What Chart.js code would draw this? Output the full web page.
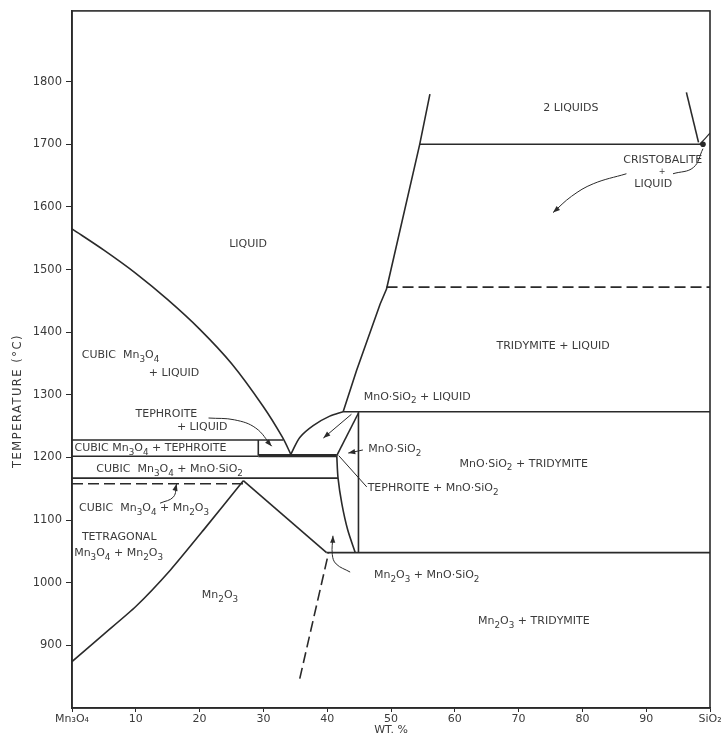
<!DOCTYPE html>
<html><head><meta charset="utf-8">
<script src="https://cdn.jsdelivr.net/npm/chart.js@4.4.0/dist/chart.umd.min.js"></script>
<style>html,body{margin:0;padding:0;background:#fff;}canvas{display:block}</style>
</head><body>
<canvas id="c" width="724" height="737"></canvas>
<script>
// ---- axis ticks ----
const xTickValues = [0,10,20,30,40,50,60,70,80,90,100];
const xTickLabels = ['Mn₃O₄','10','20','30','40','50','60','70','80','90','SiO₂'];
const yTickValues = [900,1000,1100,1200,1300,1400,1500,1600,1700,1800];

// ---- phase boundaries: [wt% SiO2, temperature °C] ----
const liquidusMn3O4   = [[0,1565],[5,1531],[10,1494],[15,1452],[20,1405],[25,1350],[30,1281],[33,1232],[34.3,1205]];
const liquidusTephro  = [[34.3,1205],[35.7,1232],[37.8,1251],[40.4,1266],[42.5,1273]];
const liquidusSiO2Low = [[42.5,1273],[44.6,1339],[48.3,1445],[49.3,1469]];
const liquidusSiO2Up  = [[49.3,1469],[54.5,1700],[56.1,1780]];
const twoLiquidsRight = [[96.3,1783],[98.2,1703]];
const cristobaliteLiq = [[98.4,1700],[99.3,1710],[100,1718]];
const line1700        = [[54.5,1700],[98.6,1700]];
const dashed1472      = [[49.3,1472],[100,1472]];
const line1273        = [[42.5,1273],[100,1273]];
const line1228        = [[0,1228],[33.1,1228]];
const vert29          = [[29.2,1228],[29.2,1203]];
const line1203thin    = [[0,1202],[29.2,1202]];
const line1203thick   = [[29.2,1203],[41.5,1203]];
const line1167        = [[0,1167],[41.7,1167]];
const dashed1158      = [[0,1158],[26.8,1158]];
const mn2o3Left       = [[0,874],[5,918],[10,962],[15.4,1020],[20.6,1084],[26.85,1163]];
const mn2o3Right      = [[26.85,1163],[39.9,1048]];
const line1048        = [[39.9,1048],[100,1048]];
const rhodoniteUpper  = [[44.9,1271],[41.5,1203]];
const rhodoniteLower  = [[41.5,1203],[41.7,1167],[42.3,1126],[43.2,1085],[44.4,1048]];
const vert449         = [[44.9,1273],[44.9,1048]];
const dashedLow       = [[35.7,847],[40.2,1047]];
const invariantDot    = [[98.9,1700]];

// ---- leader lines / arrows ----
const arrowTephLiq   = [[21.4,1263],[25.5,1260],[28.8,1247],[31.3,1218]];
const arrowCubicMn2O3= [[13.8,1127],[15.9,1137],[16.4,1158]];
const arrowMnSLiq    = [[43.8,1269],[39.4,1231]];
const arrowMnS       = [[45.6,1212],[43.3,1207]];
const leaderTephMnS  = [[46.2,1153],[41.8,1203]];
const arrowMn2O3MnS  = [[43.6,1017],[41.4,1030],[40.8,1045],[40.9,1075]];
const arrowCristo    = [[86.9,1653],[81.7,1637],[78.3,1617],[75.4,1591]];
const leaderCristo   = [[94.2,1653],[97.4,1663],[98.9,1693]];

// ---- region labels: [text, wt%, °C] ("_d" = subscript) ----
const regionLabels = [
  ['2 LIQUIDS', 78.2, 1757],
  ['CRISTOBALITE', 92.6, 1674],
  ['LIQUID', 91.1, 1637],
  ['LIQUID', 27.6, 1540],
  ['CUBIC  Mn_3O_4', 7.6, 1363],
  ['+ LIQUID', 16.0, 1334],
  ['TRIDYMITE + LIQUID', 75.4, 1377],
  ['MnO·SiO_2 + LIQUID', 54.1, 1297],
  ['TEPHROITE', 14.8, 1269],
  ['+ LIQUID', 20.4, 1249],
  ['CUBIC Mn_3O_4 + TEPHROITE', 12.3, 1215],
  ['MnO·SiO_2', 50.6, 1213],
  ['MnO·SiO_2 + TRIDYMITE', 70.8, 1190],
  ['CUBIC  Mn_3O_4 + MnO·SiO_2', 15.3, 1181],
  ['TEPHROITE + MnO·SiO_2', 56.6, 1151],
  ['CUBIC  Mn_3O_4 + Mn_2O_3', 11.3, 1119],
  ['TETRAGONAL', 7.4, 1073],
  ['Mn_3O_4 + Mn_2O_3', 7.3, 1047],
  ['Mn_2O_3 + MnO·SiO_2', 55.6, 1012],
  ['Mn_2O_3', 23.2, 980],
  ['Mn_2O_3 + TRIDYMITE', 72.4, 938]
];
const smallPlus = ['+', 92.5, 1656];

const LINE = '#2a2a2a';
const TEXT = '#3a3a3a';
const FONT = '"DejaVu Sans", sans-serif';

const datasets = [];
function addLine(pts, o = {}) {
  datasets.push({
    type: 'scatter', showLine: !o.dot,
    data: pts.map(p => ({x: p[0], y: p[1]})),
    borderColor: LINE, backgroundColor: LINE,
    borderWidth: o.w || 1.6, borderDash: o.dash || [],
    pointRadius: o.dot ? 2.8 : 0, pointHoverRadius: 0,
    pointBackgroundColor: LINE, pointBorderWidth: 0,
    tension: o.t || 0, arrow: !!o.arrow
  });
}
addLine(liquidusMn3O4, {t: 0.3});
addLine(liquidusTephro, {t: 0.3});
addLine(liquidusSiO2Low);
addLine(liquidusSiO2Up);
addLine(twoLiquidsRight);
addLine(cristobaliteLiq, {t: 0.4, w: 1.2});
addLine(line1700);
addLine(dashed1472, {dash: [11, 5]});
addLine(line1273);
addLine(line1228);
addLine(vert29);
addLine(line1203thin);
addLine(line1203thick, {w: 3.2});
addLine(line1167);
addLine(dashed1158, {dash: [11, 5]});
addLine(mn2o3Left, {t: 0.2});
addLine(mn2o3Right);
addLine(line1048);
addLine(rhodoniteUpper);
addLine(rhodoniteLower, {t: 0.3});
addLine(vert449);
addLine(dashedLow, {dash: [11, 5]});
addLine(invariantDot, {dot: true});
addLine(arrowTephLiq, {t: 0.4, w: 1, arrow: true});
addLine(arrowCubicMn2O3, {t: 0.4, w: 1, arrow: true});
addLine(arrowMnSLiq, {w: 1, arrow: true});
addLine(arrowMnS, {w: 1, arrow: true});
addLine(leaderTephMnS, {w: 1});
addLine(arrowMn2O3MnS, {t: 0.4, w: 1, arrow: true});
addLine(arrowCristo, {t: 0.4, w: 1, arrow: true});
addLine(leaderCristo, {t: 0.4, w: 1});

function drawRich(ctx, text, x, y, size, align) {
  const parts = [];
  for (let i = 0; i < text.length; i++) {
    if (text[i] === '_' && i + 1 < text.length) { parts.push({s: text[i+1], sub: true}); i++; }
    else parts.push({s: text[i], sub: false});
  }
  const subSize = size * 0.8;
  let w = 0;
  parts.forEach(p => { ctx.font = (p.sub ? subSize : size) + 'px ' + FONT; p.w = ctx.measureText(p.s).width; w += p.w; });
  let cx = align === 'left' ? x : x - w / 2;
  ctx.textAlign = 'left'; ctx.textBaseline = 'middle';
  parts.forEach(p => {
    ctx.font = (p.sub ? subSize : size) + 'px ' + FONT;
    ctx.fillText(p.s, cx, p.sub ? y + size * 0.38 : y);
    cx += p.w;
  });
}

const decorPlugin = {
  id: 'decor',
  afterDatasetsDraw(chart) {
    const {ctx, chartArea: a, scales: {x, y}} = chart;
    ctx.save();
    // frame
    ctx.strokeStyle = LINE; ctx.lineWidth = 1.6;
    ctx.strokeRect(a.left, a.top, a.right - a.left, a.bottom - a.top);
    // arrowheads
    chart.data.datasets.forEach((d, i) => {
      if (!d.arrow) return;
      const pts = chart.getDatasetMeta(i).data;
      const p2 = pts[pts.length - 1], p1 = pts[pts.length - 2];
      let fx = p1.x, fy = p1.y;
      if (d.tension && p2.cp1x !== undefined) { fx = p2.cp1x; fy = p2.cp1y; }
      const ang = Math.atan2(p2.y - fy, p2.x - fx);
      const L = 7, W = 2.6;
      ctx.fillStyle = LINE;
      ctx.beginPath();
      ctx.moveTo(p2.x, p2.y);
      ctx.lineTo(p2.x - L * Math.cos(ang) + W * Math.sin(ang), p2.y - L * Math.sin(ang) - W * Math.cos(ang));
      ctx.lineTo(p2.x - L * Math.cos(ang) - W * Math.sin(ang), p2.y - L * Math.sin(ang) + W * Math.cos(ang));
      ctx.closePath(); ctx.fill();
    });
    // labels
    ctx.fillStyle = TEXT;
    regionLabels.forEach(l => drawRich(ctx, l[0], x.getPixelForValue(l[1]), y.getPixelForValue(l[2]), 11, 'center'));
    drawRich(ctx, smallPlus[0], x.getPixelForValue(smallPlus[1]), y.getPixelForValue(smallPlus[2]), 8, 'center');
    // axis titles
    ctx.font = '11px ' + FONT; ctx.textAlign = 'center'; ctx.textBaseline = 'middle';
    ctx.fillText('WT. %', x.getPixelForValue(50), 730);
    ctx.save();
    ctx.translate(18, 401); ctx.rotate(-Math.PI / 2);
    ctx.font = '11.5px ' + FONT;
    try { ctx.letterSpacing = '1.5px'; } catch (e) {}
    ctx.fillText('TEMPERATURE (°C)', 0, 0);
    ctx.restore();
    ctx.restore();
  }
};

new Chart(document.getElementById('c'), {
  data: {datasets},
  options: {
    responsive: false, animation: false,
    layout: {padding: {top: 10, right: 14, left: 0, bottom: 0}},
    plugins: {legend: {display: false}, tooltip: {enabled: false}},
    events: [],
    scales: {
      x: {
        type: 'linear', min: 0, max: 100,
        afterBuildTicks: s => { s.ticks = xTickValues.map(v => ({value: v})); },
        afterFit: s => { s.height = 29; },
        ticks: {autoSkip: false, maxRotation: 0, padding: 1, color: TEXT,
                font: {family: 'DejaVu Sans', size: 11},
                callback: (v, i) => xTickLabels[i]},
        grid: {drawOnChartArea: false, drawTicks: true, tickLength: 4, color: LINE, lineWidth: 1},
        border: {display: true, color: LINE, width: 1.6}
      },
      y: {
        type: 'linear', min: 800, max: 1913,
        afterBuildTicks: s => { s.ticks = yTickValues.map(v => ({value: v})); },
        afterFit: s => { s.width = 72; },
        ticks: {autoSkip: false, padding: 4, color: TEXT,
                font: {family: 'DejaVu Sans', size: 11.5},
                callback: v => String(v)},
        grid: {drawOnChartArea: false, drawTicks: true, tickLength: 6, color: LINE, lineWidth: 1},
        border: {display: true, color: LINE, width: 1.6}
      }
    }
  },
  plugins: [decorPlugin]
});
</script>
</body></html>
